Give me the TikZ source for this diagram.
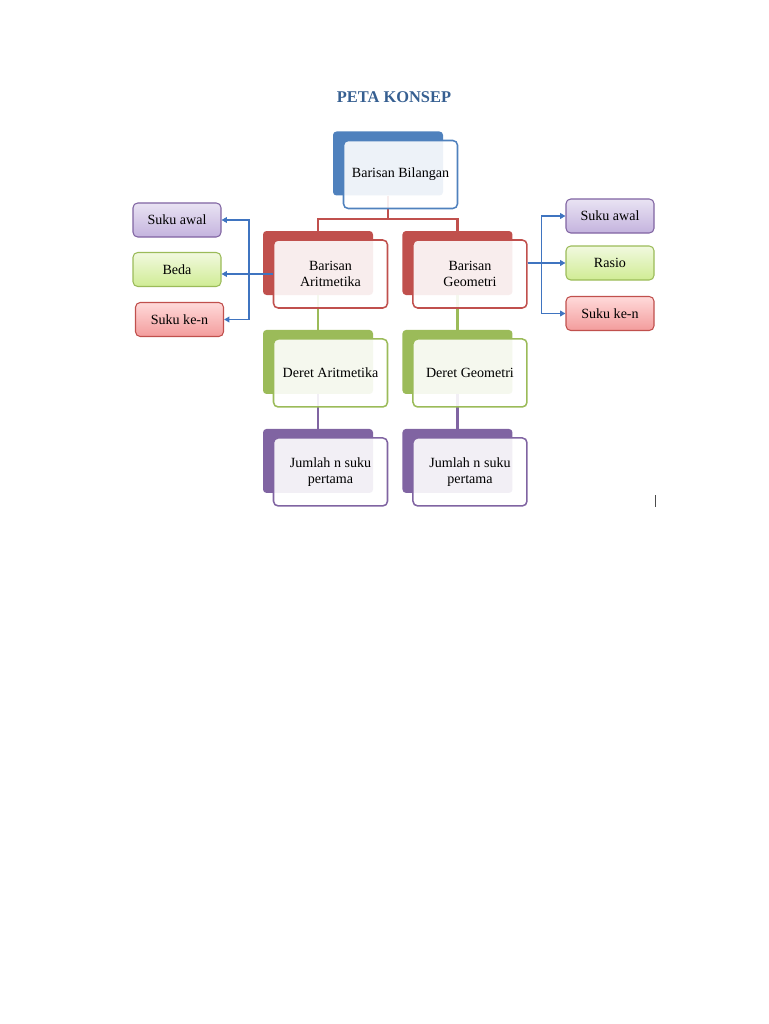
\documentclass[tikz,border=0pt]{standalone}
\usepackage{fontspec}
\setmainfont{Liberation Serif}
\usepackage{xcolor}
\usetikzlibrary{arrows.meta, positioning, calc}

\definecolor{ttlblue}{HTML}{365F91}
\definecolor{cblue}{HTML}{4F81BD}
\definecolor{cred}{HTML}{C0504D}
\definecolor{cgreen}{HTML}{9BBB59}
\definecolor{cpurple}{HTML}{8064A2}
\definecolor{arrblue}{HTML}{3F74C0}
\definecolor{purtop}{HTML}{E9E3F3}
\definecolor{purbot}{HTML}{C4B3DE}
\definecolor{grntop}{HTML}{F1F9DF}
\definecolor{grnbot}{HTML}{D0EC94}
\definecolor{redtop}{HTML}{FFDADA}
\definecolor{redbot}{HTML}{F39C9C}

\begin{document}
\begin{tikzpicture}[
    back/.style={rounded corners=3pt, minimum width=3.3cm, minimum height=1.92cm, fill=#1, draw=none},
    front/.style={draw=#1, line width=1.3pt, rounded corners=4pt, minimum width=3.42cm, minimum height=2.04cm,
      fill=white, fill opacity=0.9, text opacity=1, align=center, font=\fontsize{12}{13.5}\selectfont},
    tree/.style={line width=1.8pt, #1},
    side/.style={draw=#1, line width=0.9pt, rounded corners=4pt, minimum width=2.64cm, minimum height=1.02cm,
      font=\fontsize{12}{13.5}\selectfont},
    arrow/.style={-{Triangle[length=1.6mm, width=1.7mm]}, line width=1.3pt, arrblue},
  ]
  \useasboundingbox (0,0) rectangle (23.04,-30.72);

  % Title
  \node[font=\fontsize{14}{16}\selectfont\bfseries, text=ttlblue] (title) at (11.82,-2.91) {PETA KONSEP};

  % Back boxes
  \node[back=cblue] (bbB) at (11.64,-4.905) {};
  \node[back=cred] (baB) at (9.54,-7.89) {};
  \node[back=cred, right=0.87cm of baB] (bgB) {};
  \node[back=cgreen, below=1.035cm of baB] (daB) {};
  \node[back=cgreen, below=1.035cm of bgB] (dgB) {};
  \node[back=cpurple, below=1.035cm of daB] (jaB) {};
  \node[back=cpurple, below=1.035cm of dgB] (jgB) {};

  % Tree lines
  \draw[tree=cred] (bbB.south) -- ++(0,-0.69) -| (baB.north);
  \draw[tree=cred] (bbB.south) -- ++(0,-0.69) -| (bgB.north);
  \draw[tree=cgreen] (baB.south) -- (daB.north);
  \draw[tree=cgreen] (bgB.south) -- (dgB.north);
  \draw[tree=cpurple] (daB.south) -- (jaB.north);
  \draw[tree=cpurple] (dgB.south) -- (jgB.north);

  % Front boxes
  \node[front=cblue] (bb) at ($(bbB)+(0.375,-0.33)$) {Barisan Bilangan};
  \node[front=cred] (ba) at ($(baB)+(0.375,-0.33)$) {Barisan\\Aritmetika};
  \node[front=cred] (bg) at ($(bgB)+(0.375,-0.33)$) {Barisan\\Geometri};
  \node[front=cgreen] (da) at ($(daB)+(0.375,-0.33)$) {Deret Aritmetika};
  \node[front=cgreen] (dg) at ($(dgB)+(0.375,-0.33)$) {Deret Geometri};
  \node[front=cpurple] (ja) at ($(jaB)+(0.375,-0.33)$) {Jumlah n suku\\pertama};
  \node[front=cpurple] (jg) at ($(jgB)+(0.375,-0.33)$) {Jumlah n suku\\pertama};

  % Side boxes - left
  \node[side=cpurple, top color=purtop, bottom color=purbot] (sawL) at (5.31,-6.6) {Suku awal};
  \node[side=cgreen, top color=grntop, bottom color=grnbot] (beda) at (5.31,-8.085) {Beda};
  \node[side=cred, top color=redtop, bottom color=redbot] (sknL) at (5.385,-9.585) {Suku ke-n};

  % Side boxes - right
  \node[side=cpurple, top color=purtop, bottom color=purbot] (sawR) at (18.3,-6.48) {Suku awal};
  \node[side=cgreen, top color=grntop, bottom color=grnbot] (rasio) at (18.3,-7.89) {Rasio};
  \node[side=cred, top color=redtop, bottom color=redbot] (sknR) at (18.3,-9.405) {Suku ke-n};

  % Arrows
  \draw[arrow] (ba.west) -- (ba.west -| beda.east);
  \draw[arrow] (ba.west) -- ++(-0.72,0) |- (sawL.east);
  \draw[arrow] (ba.west) -- ++(-0.72,0) |- (sknL.east);
  \draw[arrow] (bg.east |- rasio.west) -- (rasio.west);
  \draw[arrow] (bg.east |- rasio.west) -- ++(0.42,0) |- (sawR.west);
  \draw[arrow] (bg.east |- rasio.west) -- ++(0.42,0) |- (sknR.west);

  % cursor mark
  \draw[gray!60!black, line width=0.8pt] (19.65,-14.85) -- (19.65,-15.21);
\end{tikzpicture}
\end{document}
